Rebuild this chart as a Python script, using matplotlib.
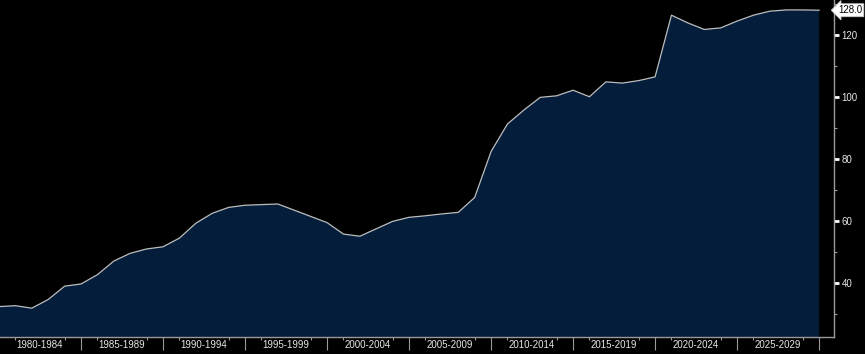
import matplotlib
matplotlib.use("Agg")
import matplotlib.pyplot as plt
from matplotlib import transforms

# annual values, 1980 .. 2030
years = list(range(1980, 2031))
values = [32.4, 32.7, 31.9, 34.7, 39.0, 39.7, 42.7, 47.1, 49.6, 51.0,
          51.7, 54.5, 59.3, 62.5, 64.4, 65.1, 65.3, 65.5, 63.5, 61.5,
          59.5, 55.8, 55.1, 57.5, 59.9, 61.2, 61.7, 62.3, 62.8, 67.6,
          82.4, 91.3, 95.8, 99.9, 100.4, 102.2, 100.1, 104.9, 104.5, 105.3,
          106.5, 126.4, 123.9, 121.8, 122.3, 124.5, 126.4, 127.7, 128.1, 128.1,
          128.0]
period_starts = [1980, 1985, 1990, 1995, 2000, 2005, 2010, 2015, 2020, 2025]
period_labels = ["1980-1984", "1985-1989", "1990-1994", "1995-1999", "2000-2004",
                 "2005-2009", "2010-2014", "2015-2019", "2020-2024", "2025-2029"]
y_ticks = [40, 60, 80, 100, 120]
last_label = "128.0"

font = ["Liberation Sans Narrow", "Liberation Sans", "DejaVu Sans"]
plt.rcParams["font.family"] = font

fig = plt.figure(figsize=(8.65, 3.54), dpi=100, facecolor="black")
ax = fig.add_axes([0, 17 / 354, 834 / 865, 337 / 354])
ax.set_facecolor("black")

ax.fill_between(years, values, 0, color="#031d3a", lw=0)
ax.plot(years, values, color="#bdbdbd", lw=0.9)

ax.set_xlim(1980.06, 2030.91)
ax.set_ylim(22.6, 131.3)

# spines
for s in ["top", "left"]:
    ax.spines[s].set_visible(False)
for s in ["bottom", "right"]:
    ax.spines[s].set_color("#9a9a9a")
    ax.spines[s].set_linewidth(1.0)

# x ticks: period boundaries long, year+1/+4 short, labels centred
ax.set_xticks(period_starts[1:] + [2030])
ax.set_xticklabels([])
ax.set_xticks([p + 1 for p in period_starts] + [p + 4 for p in period_starts], minor=True)
ax.tick_params(axis="x", which="major", length=9.5, width=0.8, color="#9a9a9a")
ax.tick_params(axis="x", which="minor", length=2.5, width=0.8, color="#9a9a9a")
trans = transforms.blended_transform_factory(ax.transData, ax.transAxes)
for p, lab in zip(period_starts, period_labels):
    ax.text(p + 2.5, -0.024, lab, transform=trans, ha="center", va="center",
            fontsize=7, color="#e6e6e6")

# y ticks on the right
ax.yaxis.tick_right()
ax.set_yticks(y_ticks)
ax.set_yticks([30, 50, 70, 90, 110, 130], minor=True)
ax.tick_params(axis="y", which="major", length=3.5, width=2, color="white",
               labelsize=7, labelcolor="#e6e6e6", pad=2)
ax.tick_params(axis="y", which="minor", length=2, width=0.8, color="#9a9a9a")

# last value tag
ax.annotate(last_label, xy=(1.0, values[-1]), xycoords=("axes fraction", "data"),
            xytext=(3, 0), textcoords="offset points", ha="left", va="center",
            fontsize=7, color="black",
            bbox=dict(boxstyle="larrow,pad=0.15", fc="white", ec="#cccccc", lw=0.6))

fig.savefig("out.png", dpi=100, facecolor="black")
